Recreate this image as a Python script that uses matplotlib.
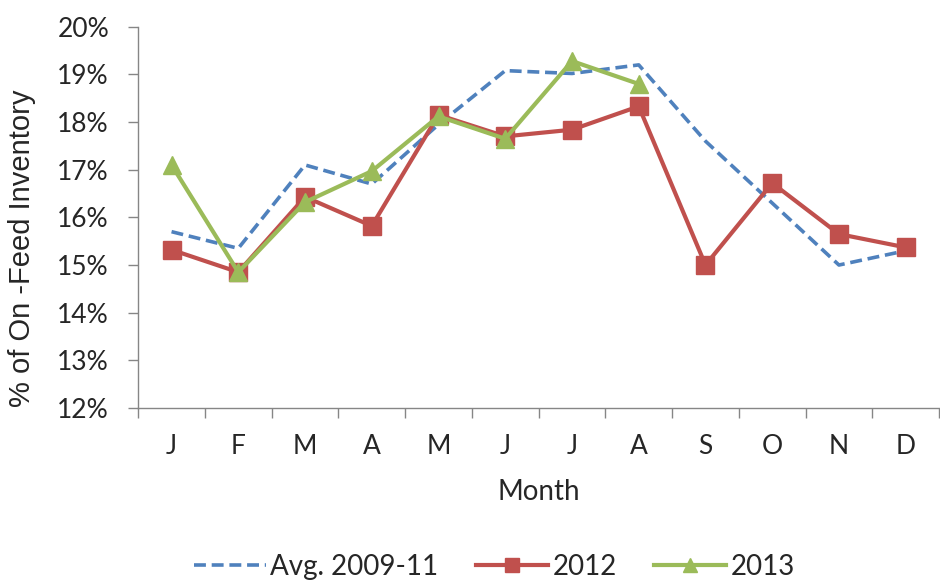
import matplotlib
matplotlib.use("Agg")
import matplotlib.pyplot as plt
from matplotlib.ticker import FixedLocator, PercentFormatter

plt.rcParams['font.family'] = ['Lato', 'DejaVu Sans']

months = ["J", "F", "M", "A", "M", "J", "J", "A", "S", "O", "N", "D"]
avg_2009_11 = [15.7, 15.35, 17.1, 16.7, 17.95, 19.08, 19.02, 19.2, 17.6, 16.3, 15.0, 15.3]
y2012 = [15.32, 14.85, 16.43, 15.82, 18.15, 17.7, 17.84, 18.33, 15.0, 16.72, 15.65, 15.37]
y2013 = [17.1, 14.85, 16.32, 16.97, 18.12, 17.65, 19.28, 18.8]

BLUE = "#4F81BD"
RED = "#C0504D"
GREEN = "#9BBB59"
AXIS = "#868686"
TEXT = "#262626"

fig = plt.figure(figsize=(9.4, 5.82), dpi=100)
ax = fig.add_axes([0.147, 0.299, 0.852, 0.655])

x = list(range(len(months)))
ax.plot(x, avg_2009_11, color=BLUE, lw=2.6, ls=(0, (3.3, 1.6)),
        label="Avg. 2009-11", zorder=2)
ax.plot(x, y2012, color=RED, lw=3, marker="s", ms=12.5,
        label="2012", zorder=3)
ax.plot(x[:len(y2013)], y2013, color=GREEN, lw=3, marker="^", ms=13,
        label="2013", zorder=4)

ax.set_xlim(-0.5, len(months) - 0.5)
ax.set_ylim(12, 20)
ax.yaxis.set_major_locator(FixedLocator(range(12, 21)))
ax.yaxis.set_major_formatter(PercentFormatter(decimals=0))

ax.set_xticks(x)
ax.set_xticklabels(months)
ax.xaxis.set_minor_locator(FixedLocator([i - 0.5 for i in range(len(months) + 1)]))
ax.tick_params(axis="x", which="major", length=0, pad=19, labelsize=19, colors=TEXT)
ax.tick_params(axis="x", which="minor", length=7, width=1, color=AXIS, direction="out")
ax.tick_params(axis="y", which="major", length=7, width=1, color=AXIS, pad=14,
               labelsize=19, labelcolor=TEXT)

for side in ("top", "right"):
    ax.spines[side].set_visible(False)
for side in ("left", "bottom"):
    ax.spines[side].set_color(AXIS)
    ax.spines[side].set_linewidth(1)

ax.set_xlabel("Month", fontsize=20, color=TEXT, labelpad=14)
ax.set_ylabel("% of On -Feed Inventory", fontsize=21, color=TEXT,
              family=["Liberation Sans", "DejaVu Sans"])
ax.yaxis.set_label_coords(-0.128, 0.42)

leg = fig.legend(loc="center", bbox_to_anchor=(0.526, 0.026), ncol=3, frameon=False,
                 fontsize=20, handlelength=2.6, columnspacing=1.35, handletextpad=0.15,
                 markerscale=0.75)
for t in leg.get_texts():
    t.set_color(TEXT)

fig.savefig("out.png", dpi=100)
